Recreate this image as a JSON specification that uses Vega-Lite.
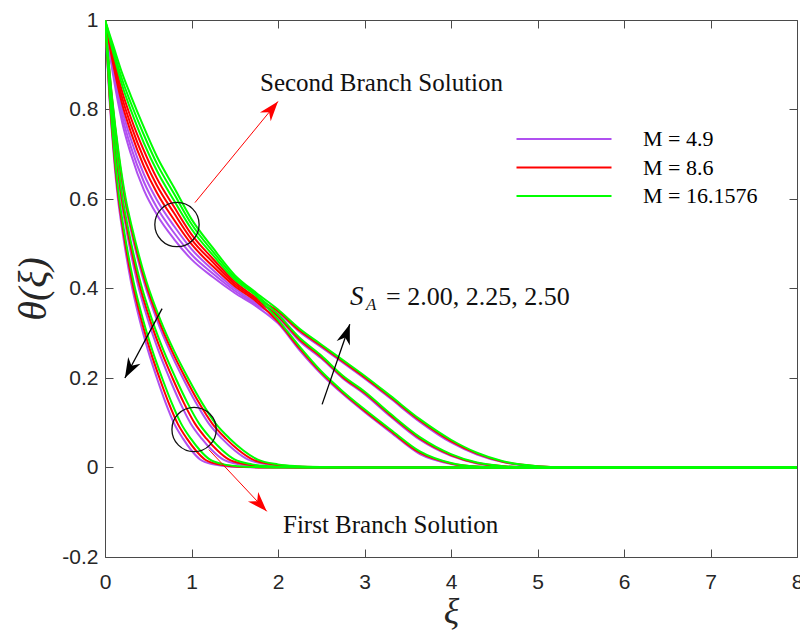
{
"$schema":"https://vega.github.io/schema/vega-lite/v6.json",
"width":692,"height":537,
"autosize":{"type":"none"},
"padding":{"left":105,"top":20,"right":3,"bottom":74},
"background":"white",
"config":{"view":{"stroke":null}},
"datasets":{
"curves":[
{"c":"f0","m":"4.9","x":0,"y":1},{"c":"f0","m":"4.9","x":0.05,"y":0.83},{"c":"f0","m":"4.9","x":0.1,"y":0.7},{"c":"f0","m":"4.9","x":0.15,"y":0.6},{"c":"f0","m":"4.9","x":0.2,"y":0.53},{"c":"f0","m":"4.9","x":0.3,"y":0.415},{"c":"f0","m":"4.9","x":0.4,"y":0.33},{"c":"f0","m":"4.9","x":0.5,"y":0.26},{"c":"f0","m":"4.9","x":0.6,"y":0.2},{"c":"f0","m":"4.9","x":0.7,"y":0.145},{"c":"f0","m":"4.9","x":0.8,"y":0.098},{"c":"f0","m":"4.9","x":0.9,"y":0.065},{"c":"f0","m":"4.9","x":1,"y":0.038},{"c":"f0","m":"4.9","x":1.1,"y":0.018},{"c":"f0","m":"4.9","x":1.25,"y":0.007},{"c":"f0","m":"4.9","x":1.4,"y":0.003},{"c":"f0","m":"4.9","x":1.6,"y":0.001},{"c":"f0","m":"4.9","x":1.8,"y":0},{"c":"f0","m":"4.9","x":8,"y":0},
{"c":"f3","m":"4.9","x":0,"y":1},{"c":"f3","m":"4.9","x":0.062,"y":0.83},{"c":"f3","m":"4.9","x":0.124,"y":0.7},{"c":"f3","m":"4.9","x":0.186,"y":0.6},{"c":"f3","m":"4.9","x":0.248,"y":0.53},{"c":"f3","m":"4.9","x":0.372,"y":0.415},{"c":"f3","m":"4.9","x":0.496,"y":0.33},{"c":"f3","m":"4.9","x":0.62,"y":0.26},{"c":"f3","m":"4.9","x":0.744,"y":0.2},{"c":"f3","m":"4.9","x":0.868,"y":0.145},{"c":"f3","m":"4.9","x":0.992,"y":0.098},{"c":"f3","m":"4.9","x":1.116,"y":0.065},{"c":"f3","m":"4.9","x":1.24,"y":0.038},{"c":"f3","m":"4.9","x":1.364,"y":0.018},{"c":"f3","m":"4.9","x":1.55,"y":0.007},{"c":"f3","m":"4.9","x":1.736,"y":0.003},{"c":"f3","m":"4.9","x":1.984,"y":0.001},{"c":"f3","m":"4.9","x":2.232,"y":0},{"c":"f3","m":"4.9","x":8,"y":0},
{"c":"f6","m":"4.9","x":0,"y":1},{"c":"f6","m":"4.9","x":0.075,"y":0.83},{"c":"f6","m":"4.9","x":0.15,"y":0.7},{"c":"f6","m":"4.9","x":0.225,"y":0.6},{"c":"f6","m":"4.9","x":0.3,"y":0.53},{"c":"f6","m":"4.9","x":0.45,"y":0.415},{"c":"f6","m":"4.9","x":0.6,"y":0.33},{"c":"f6","m":"4.9","x":0.75,"y":0.26},{"c":"f6","m":"4.9","x":0.9,"y":0.2},{"c":"f6","m":"4.9","x":1.05,"y":0.145},{"c":"f6","m":"4.9","x":1.2,"y":0.098},{"c":"f6","m":"4.9","x":1.35,"y":0.065},{"c":"f6","m":"4.9","x":1.5,"y":0.038},{"c":"f6","m":"4.9","x":1.65,"y":0.018},{"c":"f6","m":"4.9","x":1.875,"y":0.007},{"c":"f6","m":"4.9","x":2.1,"y":0.003},{"c":"f6","m":"4.9","x":2.4,"y":0.001},{"c":"f6","m":"4.9","x":2.7,"y":0},{"c":"f6","m":"4.9","x":8,"y":0},
{"c":"s00","m":"4.9","x":0,"y":1},{"c":"s00","m":"4.9","x":0.1,"y":0.87},{"c":"s00","m":"4.9","x":0.2,"y":0.77},{"c":"s00","m":"4.9","x":0.3,"y":0.7},{"c":"s00","m":"4.9","x":0.45,"y":0.62},{"c":"s00","m":"4.9","x":0.6,"y":0.565},{"c":"s00","m":"4.9","x":0.8,"y":0.51},{"c":"s00","m":"4.9","x":1,"y":0.465},{"c":"s00","m":"4.9","x":1.25,"y":0.425},{"c":"s00","m":"4.9","x":1.5,"y":0.39},{"c":"s00","m":"4.9","x":1.75,"y":0.36},{"c":"s00","m":"4.9","x":2,"y":0.322},{"c":"s00","m":"4.9","x":2.25,"y":0.262},{"c":"s00","m":"4.9","x":2.5,"y":0.209},{"c":"s00","m":"4.9","x":2.75,"y":0.164},{"c":"s00","m":"4.9","x":3,"y":0.124},{"c":"s00","m":"4.9","x":3.3,"y":0.079},{"c":"s00","m":"4.9","x":3.64,"y":0.03},{"c":"s00","m":"4.9","x":4,"y":0.008},{"c":"s00","m":"4.9","x":4.3,"y":0.001},{"c":"s00","m":"4.9","x":4.6,"y":0},{"c":"s00","m":"4.9","x":8,"y":0},
{"c":"s01","m":"4.9","x":0,"y":1},{"c":"s01","m":"4.9","x":0.1,"y":0.879},{"c":"s01","m":"4.9","x":0.2,"y":0.784},{"c":"s01","m":"4.9","x":0.3,"y":0.716},{"c":"s01","m":"4.9","x":0.45,"y":0.638},{"c":"s01","m":"4.9","x":0.6,"y":0.581},{"c":"s01","m":"4.9","x":0.8,"y":0.524},{"c":"s01","m":"4.9","x":1,"y":0.476},{"c":"s01","m":"4.9","x":1.25,"y":0.433},{"c":"s01","m":"4.9","x":1.5,"y":0.395},{"c":"s01","m":"4.9","x":1.75,"y":0.364},{"c":"s01","m":"4.9","x":2,"y":0.334},{"c":"s01","m":"4.9","x":2.25,"y":0.282},{"c":"s01","m":"4.9","x":2.5,"y":0.244},{"c":"s01","m":"4.9","x":2.75,"y":0.199},{"c":"s01","m":"4.9","x":3,"y":0.164},{"c":"s01","m":"4.9","x":3.3,"y":0.114},{"c":"s01","m":"4.9","x":3.64,"y":0.062},{"c":"s01","m":"4.9","x":4,"y":0.026},{"c":"s01","m":"4.9","x":4.3,"y":0.009},{"c":"s01","m":"4.9","x":4.6,"y":0.002},{"c":"s01","m":"4.9","x":5,"y":0},{"c":"s01","m":"4.9","x":8,"y":0},
{"c":"s02","m":"4.9","x":0,"y":1},{"c":"s02","m":"4.9","x":0.1,"y":0.888},{"c":"s02","m":"4.9","x":0.2,"y":0.798},{"c":"s02","m":"4.9","x":0.3,"y":0.733},{"c":"s02","m":"4.9","x":0.45,"y":0.655},{"c":"s02","m":"4.9","x":0.6,"y":0.598},{"c":"s02","m":"4.9","x":0.8,"y":0.539},{"c":"s02","m":"4.9","x":1,"y":0.488},{"c":"s02","m":"4.9","x":1.25,"y":0.441},{"c":"s02","m":"4.9","x":1.5,"y":0.4},{"c":"s02","m":"4.9","x":1.75,"y":0.368},{"c":"s02","m":"4.9","x":2,"y":0.345},{"c":"s02","m":"4.9","x":2.25,"y":0.303},{"c":"s02","m":"4.9","x":2.5,"y":0.269},{"c":"s02","m":"4.9","x":2.75,"y":0.234},{"c":"s02","m":"4.9","x":3,"y":0.199},{"c":"s02","m":"4.9","x":3.3,"y":0.154},{"c":"s02","m":"4.9","x":3.64,"y":0.102},{"c":"s02","m":"4.9","x":4,"y":0.056},{"c":"s02","m":"4.9","x":4.3,"y":0.029},{"c":"s02","m":"4.9","x":4.6,"y":0.012},{"c":"s02","m":"4.9","x":5,"y":0.002},{"c":"s02","m":"4.9","x":5.4,"y":0},{"c":"s02","m":"4.9","x":8,"y":0},
{"c":"f1","m":"8.6","x":0,"y":1},{"c":"f1","m":"8.6","x":0.053,"y":0.83},{"c":"f1","m":"8.6","x":0.105,"y":0.7},{"c":"f1","m":"8.6","x":0.158,"y":0.6},{"c":"f1","m":"8.6","x":0.21,"y":0.53},{"c":"f1","m":"8.6","x":0.315,"y":0.415},{"c":"f1","m":"8.6","x":0.42,"y":0.33},{"c":"f1","m":"8.6","x":0.525,"y":0.26},{"c":"f1","m":"8.6","x":0.63,"y":0.2},{"c":"f1","m":"8.6","x":0.735,"y":0.145},{"c":"f1","m":"8.6","x":0.84,"y":0.098},{"c":"f1","m":"8.6","x":0.945,"y":0.065},{"c":"f1","m":"8.6","x":1.05,"y":0.038},{"c":"f1","m":"8.6","x":1.155,"y":0.018},{"c":"f1","m":"8.6","x":1.313,"y":0.007},{"c":"f1","m":"8.6","x":1.47,"y":0.003},{"c":"f1","m":"8.6","x":1.68,"y":0.001},{"c":"f1","m":"8.6","x":1.89,"y":0},{"c":"f1","m":"8.6","x":8,"y":0},
{"c":"f4","m":"8.6","x":0,"y":1},{"c":"f4","m":"8.6","x":0.065,"y":0.83},{"c":"f4","m":"8.6","x":0.13,"y":0.7},{"c":"f4","m":"8.6","x":0.195,"y":0.6},{"c":"f4","m":"8.6","x":0.26,"y":0.53},{"c":"f4","m":"8.6","x":0.39,"y":0.415},{"c":"f4","m":"8.6","x":0.52,"y":0.33},{"c":"f4","m":"8.6","x":0.65,"y":0.26},{"c":"f4","m":"8.6","x":0.78,"y":0.2},{"c":"f4","m":"8.6","x":0.91,"y":0.145},{"c":"f4","m":"8.6","x":1.04,"y":0.098},{"c":"f4","m":"8.6","x":1.17,"y":0.065},{"c":"f4","m":"8.6","x":1.3,"y":0.038},{"c":"f4","m":"8.6","x":1.43,"y":0.018},{"c":"f4","m":"8.6","x":1.625,"y":0.007},{"c":"f4","m":"8.6","x":1.82,"y":0.003},{"c":"f4","m":"8.6","x":2.08,"y":0.001},{"c":"f4","m":"8.6","x":2.34,"y":0},{"c":"f4","m":"8.6","x":8,"y":0},
{"c":"f7","m":"8.6","x":0,"y":1},{"c":"f7","m":"8.6","x":0.078,"y":0.83},{"c":"f7","m":"8.6","x":0.155,"y":0.7},{"c":"f7","m":"8.6","x":0.233,"y":0.6},{"c":"f7","m":"8.6","x":0.31,"y":0.53},{"c":"f7","m":"8.6","x":0.465,"y":0.415},{"c":"f7","m":"8.6","x":0.62,"y":0.33},{"c":"f7","m":"8.6","x":0.775,"y":0.26},{"c":"f7","m":"8.6","x":0.93,"y":0.2},{"c":"f7","m":"8.6","x":1.085,"y":0.145},{"c":"f7","m":"8.6","x":1.24,"y":0.098},{"c":"f7","m":"8.6","x":1.395,"y":0.065},{"c":"f7","m":"8.6","x":1.55,"y":0.038},{"c":"f7","m":"8.6","x":1.705,"y":0.018},{"c":"f7","m":"8.6","x":1.938,"y":0.007},{"c":"f7","m":"8.6","x":2.17,"y":0.003},{"c":"f7","m":"8.6","x":2.48,"y":0.001},{"c":"f7","m":"8.6","x":2.79,"y":0},{"c":"f7","m":"8.6","x":8,"y":0},
{"c":"s10","m":"8.6","x":0,"y":1},{"c":"s10","m":"8.6","x":0.1,"y":0.896},{"c":"s10","m":"8.6","x":0.2,"y":0.811},{"c":"s10","m":"8.6","x":0.3,"y":0.749},{"c":"s10","m":"8.6","x":0.45,"y":0.673},{"c":"s10","m":"8.6","x":0.6,"y":0.614},{"c":"s10","m":"8.6","x":0.8,"y":0.553},{"c":"s10","m":"8.6","x":1,"y":0.499},{"c":"s10","m":"8.6","x":1.25,"y":0.449},{"c":"s10","m":"8.6","x":1.5,"y":0.405},{"c":"s10","m":"8.6","x":1.75,"y":0.371},{"c":"s10","m":"8.6","x":2,"y":0.326},{"c":"s10","m":"8.6","x":2.25,"y":0.266},{"c":"s10","m":"8.6","x":2.5,"y":0.212},{"c":"s10","m":"8.6","x":2.75,"y":0.167},{"c":"s10","m":"8.6","x":3,"y":0.127},{"c":"s10","m":"8.6","x":3.3,"y":0.082},{"c":"s10","m":"8.6","x":3.64,"y":0.033},{"c":"s10","m":"8.6","x":4,"y":0.009},{"c":"s10","m":"8.6","x":4.3,"y":0.002},{"c":"s10","m":"8.6","x":4.6,"y":0},{"c":"s10","m":"8.6","x":8,"y":0},
{"c":"s11","m":"8.6","x":0,"y":1},{"c":"s11","m":"8.6","x":0.1,"y":0.905},{"c":"s11","m":"8.6","x":0.2,"y":0.825},{"c":"s11","m":"8.6","x":0.3,"y":0.765},{"c":"s11","m":"8.6","x":0.45,"y":0.69},{"c":"s11","m":"8.6","x":0.6,"y":0.63},{"c":"s11","m":"8.6","x":0.8,"y":0.568},{"c":"s11","m":"8.6","x":1,"y":0.51},{"c":"s11","m":"8.6","x":1.25,"y":0.458},{"c":"s11","m":"8.6","x":1.5,"y":0.41},{"c":"s11","m":"8.6","x":1.75,"y":0.375},{"c":"s11","m":"8.6","x":2,"y":0.338},{"c":"s11","m":"8.6","x":2.25,"y":0.286},{"c":"s11","m":"8.6","x":2.5,"y":0.247},{"c":"s11","m":"8.6","x":2.75,"y":0.202},{"c":"s11","m":"8.6","x":3,"y":0.167},{"c":"s11","m":"8.6","x":3.3,"y":0.117},{"c":"s11","m":"8.6","x":3.64,"y":0.065},{"c":"s11","m":"8.6","x":4,"y":0.028},{"c":"s11","m":"8.6","x":4.3,"y":0.01},{"c":"s11","m":"8.6","x":4.6,"y":0.003},{"c":"s11","m":"8.6","x":5,"y":0},{"c":"s11","m":"8.6","x":8,"y":0},
{"c":"s12","m":"8.6","x":0,"y":1},{"c":"s12","m":"8.6","x":0.1,"y":0.914},{"c":"s12","m":"8.6","x":0.2,"y":0.839},{"c":"s12","m":"8.6","x":0.3,"y":0.781},{"c":"s12","m":"8.6","x":0.45,"y":0.708},{"c":"s12","m":"8.6","x":0.6,"y":0.646},{"c":"s12","m":"8.6","x":0.8,"y":0.582},{"c":"s12","m":"8.6","x":1,"y":0.521},{"c":"s12","m":"8.6","x":1.25,"y":0.466},{"c":"s12","m":"8.6","x":1.5,"y":0.415},{"c":"s12","m":"8.6","x":1.75,"y":0.379},{"c":"s12","m":"8.6","x":2,"y":0.349},{"c":"s12","m":"8.6","x":2.25,"y":0.306},{"c":"s12","m":"8.6","x":2.5,"y":0.272},{"c":"s12","m":"8.6","x":2.75,"y":0.237},{"c":"s12","m":"8.6","x":3,"y":0.202},{"c":"s12","m":"8.6","x":3.3,"y":0.157},{"c":"s12","m":"8.6","x":3.64,"y":0.105},{"c":"s12","m":"8.6","x":4,"y":0.059},{"c":"s12","m":"8.6","x":4.3,"y":0.031},{"c":"s12","m":"8.6","x":4.6,"y":0.013},{"c":"s12","m":"8.6","x":5,"y":0.003},{"c":"s12","m":"8.6","x":5.4,"y":0},{"c":"s12","m":"8.6","x":8,"y":0},
{"c":"f2","m":"16.1576","x":0,"y":1},{"c":"f2","m":"16.1576","x":0.055,"y":0.83},{"c":"f2","m":"16.1576","x":0.11,"y":0.7},{"c":"f2","m":"16.1576","x":0.165,"y":0.6},{"c":"f2","m":"16.1576","x":0.22,"y":0.53},{"c":"f2","m":"16.1576","x":0.33,"y":0.415},{"c":"f2","m":"16.1576","x":0.44,"y":0.33},{"c":"f2","m":"16.1576","x":0.55,"y":0.26},{"c":"f2","m":"16.1576","x":0.66,"y":0.2},{"c":"f2","m":"16.1576","x":0.77,"y":0.145},{"c":"f2","m":"16.1576","x":0.88,"y":0.098},{"c":"f2","m":"16.1576","x":0.99,"y":0.065},{"c":"f2","m":"16.1576","x":1.1,"y":0.038},{"c":"f2","m":"16.1576","x":1.21,"y":0.018},{"c":"f2","m":"16.1576","x":1.375,"y":0.007},{"c":"f2","m":"16.1576","x":1.54,"y":0.003},{"c":"f2","m":"16.1576","x":1.76,"y":0.001},{"c":"f2","m":"16.1576","x":1.98,"y":0},{"c":"f2","m":"16.1576","x":8,"y":0},
{"c":"f5","m":"16.1576","x":0,"y":1},{"c":"f5","m":"16.1576","x":0.068,"y":0.83},{"c":"f5","m":"16.1576","x":0.136,"y":0.7},{"c":"f5","m":"16.1576","x":0.204,"y":0.6},{"c":"f5","m":"16.1576","x":0.272,"y":0.53},{"c":"f5","m":"16.1576","x":0.408,"y":0.415},{"c":"f5","m":"16.1576","x":0.544,"y":0.33},{"c":"f5","m":"16.1576","x":0.68,"y":0.26},{"c":"f5","m":"16.1576","x":0.816,"y":0.2},{"c":"f5","m":"16.1576","x":0.952,"y":0.145},{"c":"f5","m":"16.1576","x":1.088,"y":0.098},{"c":"f5","m":"16.1576","x":1.224,"y":0.065},{"c":"f5","m":"16.1576","x":1.36,"y":0.038},{"c":"f5","m":"16.1576","x":1.496,"y":0.018},{"c":"f5","m":"16.1576","x":1.7,"y":0.007},{"c":"f5","m":"16.1576","x":1.904,"y":0.003},{"c":"f5","m":"16.1576","x":2.176,"y":0.001},{"c":"f5","m":"16.1576","x":2.448,"y":0},{"c":"f5","m":"16.1576","x":8,"y":0},
{"c":"f8","m":"16.1576","x":0,"y":1},{"c":"f8","m":"16.1576","x":0.08,"y":0.83},{"c":"f8","m":"16.1576","x":0.16,"y":0.7},{"c":"f8","m":"16.1576","x":0.24,"y":0.6},{"c":"f8","m":"16.1576","x":0.32,"y":0.53},{"c":"f8","m":"16.1576","x":0.48,"y":0.415},{"c":"f8","m":"16.1576","x":0.64,"y":0.33},{"c":"f8","m":"16.1576","x":0.8,"y":0.26},{"c":"f8","m":"16.1576","x":0.96,"y":0.2},{"c":"f8","m":"16.1576","x":1.12,"y":0.145},{"c":"f8","m":"16.1576","x":1.28,"y":0.098},{"c":"f8","m":"16.1576","x":1.44,"y":0.065},{"c":"f8","m":"16.1576","x":1.6,"y":0.038},{"c":"f8","m":"16.1576","x":1.76,"y":0.018},{"c":"f8","m":"16.1576","x":2,"y":0.007},{"c":"f8","m":"16.1576","x":2.24,"y":0.003},{"c":"f8","m":"16.1576","x":2.56,"y":0.001},{"c":"f8","m":"16.1576","x":2.88,"y":0},{"c":"f8","m":"16.1576","x":8,"y":0},
{"c":"s20","m":"16.1576","x":0,"y":1},{"c":"s20","m":"16.1576","x":0.1,"y":0.923},{"c":"s20","m":"16.1576","x":0.2,"y":0.853},{"c":"s20","m":"16.1576","x":0.3,"y":0.798},{"c":"s20","m":"16.1576","x":0.45,"y":0.725},{"c":"s20","m":"16.1576","x":0.6,"y":0.663},{"c":"s20","m":"16.1576","x":0.8,"y":0.596},{"c":"s20","m":"16.1576","x":1,"y":0.533},{"c":"s20","m":"16.1576","x":1.25,"y":0.474},{"c":"s20","m":"16.1576","x":1.5,"y":0.42},{"c":"s20","m":"16.1576","x":1.75,"y":0.383},{"c":"s20","m":"16.1576","x":2,"y":0.33},{"c":"s20","m":"16.1576","x":2.25,"y":0.27},{"c":"s20","m":"16.1576","x":2.5,"y":0.215},{"c":"s20","m":"16.1576","x":2.75,"y":0.17},{"c":"s20","m":"16.1576","x":3,"y":0.13},{"c":"s20","m":"16.1576","x":3.3,"y":0.085},{"c":"s20","m":"16.1576","x":3.64,"y":0.036},{"c":"s20","m":"16.1576","x":4,"y":0.01},{"c":"s20","m":"16.1576","x":4.3,"y":0.002},{"c":"s20","m":"16.1576","x":4.6,"y":0},{"c":"s20","m":"16.1576","x":8,"y":0},
{"c":"s21","m":"16.1576","x":0,"y":1},{"c":"s21","m":"16.1576","x":0.1,"y":0.931},{"c":"s21","m":"16.1576","x":0.2,"y":0.866},{"c":"s21","m":"16.1576","x":0.3,"y":0.814},{"c":"s21","m":"16.1576","x":0.45,"y":0.743},{"c":"s21","m":"16.1576","x":0.6,"y":0.679},{"c":"s21","m":"16.1576","x":0.8,"y":0.611},{"c":"s21","m":"16.1576","x":1,"y":0.544},{"c":"s21","m":"16.1576","x":1.25,"y":0.482},{"c":"s21","m":"16.1576","x":1.5,"y":0.425},{"c":"s21","m":"16.1576","x":1.75,"y":0.386},{"c":"s21","m":"16.1576","x":2,"y":0.342},{"c":"s21","m":"16.1576","x":2.25,"y":0.29},{"c":"s21","m":"16.1576","x":2.5,"y":0.25},{"c":"s21","m":"16.1576","x":2.75,"y":0.205},{"c":"s21","m":"16.1576","x":3,"y":0.17},{"c":"s21","m":"16.1576","x":3.3,"y":0.12},{"c":"s21","m":"16.1576","x":3.64,"y":0.068},{"c":"s21","m":"16.1576","x":4,"y":0.03},{"c":"s21","m":"16.1576","x":4.3,"y":0.011},{"c":"s21","m":"16.1576","x":4.6,"y":0.003},{"c":"s21","m":"16.1576","x":5,"y":0},{"c":"s21","m":"16.1576","x":8,"y":0},
{"c":"s22","m":"16.1576","x":0,"y":1},{"c":"s22","m":"16.1576","x":0.1,"y":0.94},{"c":"s22","m":"16.1576","x":0.2,"y":0.88},{"c":"s22","m":"16.1576","x":0.3,"y":0.83},{"c":"s22","m":"16.1576","x":0.45,"y":0.76},{"c":"s22","m":"16.1576","x":0.6,"y":0.695},{"c":"s22","m":"16.1576","x":0.8,"y":0.625},{"c":"s22","m":"16.1576","x":1,"y":0.555},{"c":"s22","m":"16.1576","x":1.25,"y":0.49},{"c":"s22","m":"16.1576","x":1.5,"y":0.43},{"c":"s22","m":"16.1576","x":1.75,"y":0.39},{"c":"s22","m":"16.1576","x":2,"y":0.353},{"c":"s22","m":"16.1576","x":2.25,"y":0.31},{"c":"s22","m":"16.1576","x":2.5,"y":0.275},{"c":"s22","m":"16.1576","x":2.75,"y":0.24},{"c":"s22","m":"16.1576","x":3,"y":0.205},{"c":"s22","m":"16.1576","x":3.3,"y":0.16},{"c":"s22","m":"16.1576","x":3.64,"y":0.108},{"c":"s22","m":"16.1576","x":4,"y":0.062},{"c":"s22","m":"16.1576","x":4.3,"y":0.033},{"c":"s22","m":"16.1576","x":4.6,"y":0.014},{"c":"s22","m":"16.1576","x":5,"y":0.003},{"c":"s22","m":"16.1576","x":5.4,"y":0},{"c":"s22","m":"16.1576","x":8,"y":0}
],
"arrows":[
{"k":"red","x":1.04,"y":0.592,"x2":2.0,"y2":0.818,"dir":39.4},
{"k":"red","x":1.2,"y":0.04,"x2":1.87,"y2":-0.098,"dir":136.8},
{"k":"black","x":0.66,"y":0.355,"x2":0.23,"y2":0.2,"dir":208.2},
{"k":"black","x":2.51,"y":0.141,"x2":2.83,"y2":0.32,"dir":19.1}
]
},
"layer":[
{
"data":{"name":"curves"},
"mark":{"type":"line","interpolate":"monotone","clip":true},
"encoding":{
"x":{"field":"x","type":"quantitative","scale":{"domain":[0,8],"nice":false,"zero":false},
"axis":{"orient":"bottom","values":[0,1,2,3,4,5,6,7,8],"title":"ξ","grid":false,"tickSize":-8,"labelPadding":22,"domainColor":"#4a4a4a","tickColor":"#4a4a4a","labelColor":"#262626","labelFont":"Liberation Sans","labelFontSize":21,"labelFlush":false,"titleFont":"Liberation Serif","titleFontStyle":"italic","titleFontWeight":"normal","titleFontSize":36,"titleColor":"#262626","titlePadding":2}},
"y":{"field":"y","type":"quantitative","scale":{"domain":[-0.2,1],"nice":false,"zero":false},
"axis":{"orient":"left","values":[-0.2,0,0.2,0.4,0.6,0.8,1],"labelExpr":"'' + round(datum.value*10)/10","title":"θ(ξ)","grid":false,"tickSize":-8,"labelPadding":15,"domainColor":"#4a4a4a","tickColor":"#4a4a4a","labelColor":"#262626","labelFont":"Liberation Sans","labelFontSize":21,"labelFlush":false,"titleFont":"Liberation Serif","titleFontStyle":"italic","titleFontWeight":"normal","titleFontSize":40,"titleColor":"#262626","titlePadding":8}},
"color":{"field":"m","type":"nominal","scale":{"domain":["4.9","8.6","16.1576"],"range":["#B050F0","#FF0000","#00FF00"]},
"legend":{"orient":"none","legendX":448,"legendY":108,"title":null,"symbolType":"M-5,0H5","symbolSize":361,"symbolStrokeWidth":2,"labelFont":"Liberation Serif","labelFontSize":22,"labelColor":"#000000","labelOffset":68,"rowPadding":6.5,"padding":0,"labelExpr":"'M = ' + datum.label"}},
"strokeWidth":{"field":"m","type":"nominal","scale":{"domain":["4.9","8.6","16.1576"],"range":[2,2,2.6]},"legend":null},
"detail":{"field":"c"}
}
},
{
"data":{"values":[{"t":"Second Branch Solution","x":1.792,"y":0.841},{"t":"First Branch Solution","x":2.058,"y":-0.146}]},
"mark":{"type":"text","font":"Liberation Serif","fontSize":25,"align":"left","baseline":"alphabetic","color":"#111111"},
"encoding":{
"x":{"field":"x","type":"quantitative","scale":{"domain":[0,8],"nice":false,"zero":false},"axis":{"orient":"top","labels":false,"title":null,"values":[0,1,2,3,4,5,6,7,8],"grid":false,"tickSize":-8,"domainColor":"#4a4a4a","tickColor":"#4a4a4a"}},
"y":{"field":"y","type":"quantitative","scale":{"domain":[-0.2,1],"nice":false,"zero":false},"axis":{"orient":"right","labels":false,"title":null,"values":[-0.2,0,0.2,0.4,0.6,0.8,1],"grid":false,"tickSize":-8,"domainColor":"#4a4a4a","tickColor":"#4a4a4a"}},
"text":{"field":"t"}
}
},
{
"data":{"values":[{"t":"= 2.00, 2.25, 2.50","x":3.249,"y":0.364}]},
"mark":{"type":"text","font":"Liberation Serif","fontSize":26,"align":"left","baseline":"alphabetic","color":"#111111"},
"encoding":{"x":{"field":"x","type":"quantitative","axis":null},"y":{"field":"y","type":"quantitative","axis":null},"text":{"field":"t"}}
},
{
"data":{"values":[{"t":"S","x":2.832,"y":0.364}]},
"mark":{"type":"text","font":"Liberation Serif","fontStyle":"italic","fontSize":27,"align":"left","baseline":"alphabetic","color":"#111111"},
"encoding":{"x":{"field":"x","type":"quantitative","axis":null},"y":{"field":"y","type":"quantitative","axis":null},"text":{"field":"t"}}
},
{
"data":{"values":[{"t":"A","x":3.017,"y":0.351}]},
"mark":{"type":"text","font":"Liberation Serif","fontStyle":"italic","fontSize":17,"align":"left","baseline":"alphabetic","color":"#111111"},
"encoding":{"x":{"field":"x","type":"quantitative","axis":null},"y":{"field":"y","type":"quantitative","axis":null},"text":{"field":"t"}}
},
{
"data":{"values":[{"x":0.832,"y":0.543},{"x":1.03,"y":0.085}]},
"mark":{"type":"point","shape":"circle","filled":false,"size":1963,"color":"#111111","strokeWidth":1.3,"opacity":1},
"encoding":{"x":{"field":"x","type":"quantitative","axis":null},"y":{"field":"y","type":"quantitative","axis":null}}
},
{
"data":{"name":"arrows"},
"transform":[{"filter":"datum.k == 'red'"}],
"mark":{"type":"rule","color":"#FF0000","strokeWidth":1},
"encoding":{"x":{"field":"x","type":"quantitative","axis":null},"y":{"field":"y","type":"quantitative","axis":null},"x2":{"field":"x2"},"y2":{"field":"y2"}}
},
{
"data":{"name":"arrows"},
"transform":[{"filter":"datum.k == 'black'"}],
"mark":{"type":"rule","color":"#000000","strokeWidth":1.3},
"encoding":{"x":{"field":"x","type":"quantitative","axis":null},"y":{"field":"y","type":"quantitative","axis":null},"x2":{"field":"x2"},"y2":{"field":"y2"}}
},
{
"data":{"name":"arrows"},
"transform":[{"filter":"datum.k == 'red'"}],
"mark":{"type":"point","shape":"M0,0L0.7,2L0,1.4L-0.7,2Z","filled":true,"size":400,"color":"#FF0000","opacity":1},
"encoding":{"x":{"field":"x2","type":"quantitative","axis":null},"y":{"field":"y2","type":"quantitative","axis":null},"angle":{"field":"dir","type":"quantitative","scale":null}}
},
{
"data":{"name":"arrows"},
"transform":[{"filter":"datum.k == 'black'"}],
"mark":{"type":"point","shape":"M0,0L0.7,2L0,1.4L-0.7,2Z","filled":true,"size":400,"color":"#000000","opacity":1},
"encoding":{"x":{"field":"x2","type":"quantitative","axis":null},"y":{"field":"y2","type":"quantitative","axis":null},"angle":{"field":"dir","type":"quantitative","scale":null}}
}
],
"resolve":{"axis":{"x":"independent","y":"independent"}}
}
